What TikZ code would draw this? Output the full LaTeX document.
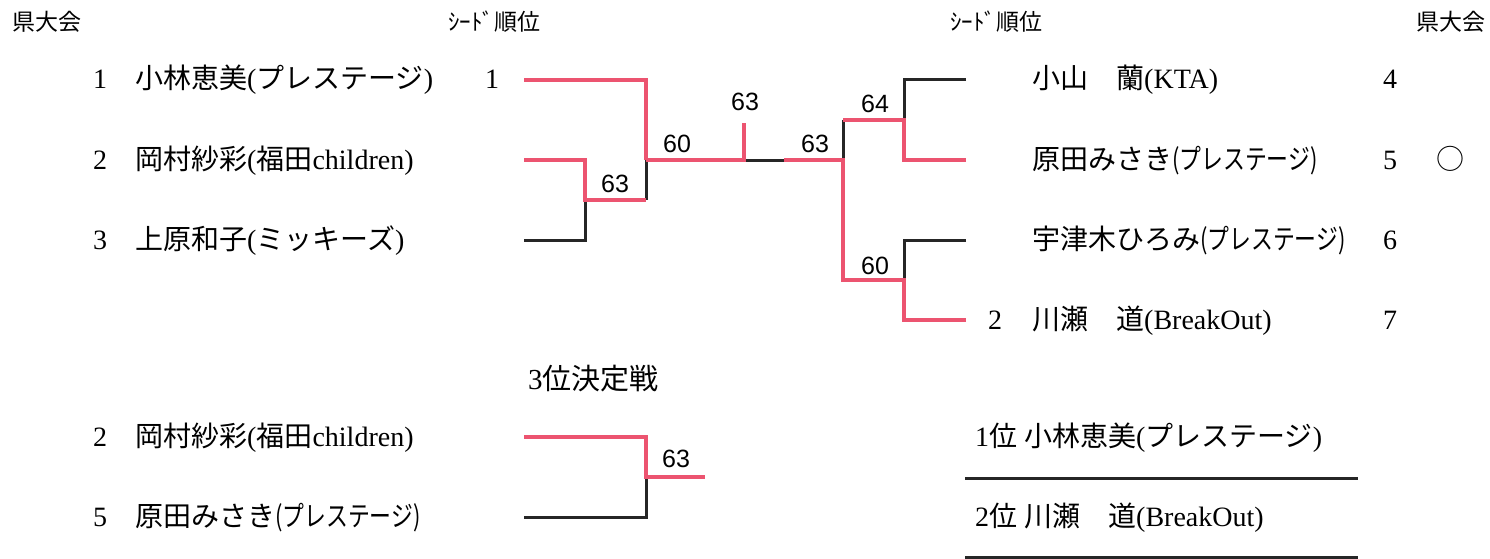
\documentclass[tikz,border=0pt]{standalone}
\usepackage{fontspec}
\usepackage{graphicx}
\setmainfont{Liberation Serif}
\newfontfamily\jpfont{Noto Sans CJK JP}
\newfontfamily\scorefont{Liberation Sans}
\newcommand{\jp}[1]{{\jpfont #1}}
\newcommand{\jpsmall}[1]{\scalebox{0.78}[1]{\jpfont #1}}
\definecolor{winred}{RGB}{236,84,112}

\begin{document}
\begin{tikzpicture}[x=1pt,y=-1pt]
        \tikzstyle{every node} = [inner sep=0pt, text height=24pt, text depth=6pt, font=\fontsize{28}{30}\selectfont]
        \tikzstyle{player} = [anchor=west]
        \tikzstyle{headtext} = [font=\jpfont\fontsize{23}{25}\selectfont]
        \tikzstyle{score} = [font=\scorefont\fontsize{25}{27}\selectfont]
        \tikzstyle{win} = [draw=winred, line width=4pt]
        \tikzstyle{lose} = [draw=black!85, line width=3pt]
        \useasboundingbox (0,0) rectangle (1490,559);

        % headers
        \node[headtext, anchor=west] (h1) at (12,22) {県大会};
        \node[headtext, anchor=west] (h2) at (448,22) {ｼｰﾄﾞ順位};
        \node[headtext, anchor=west] (h3) at (950,22) {ｼｰﾄﾞ順位};
        \node[headtext, anchor=east] (h4) at (1486,22) {県大会};

        % left block
        \node (n1) at (100,80) {1};
        \node[player] (p1) at (135,80) {\jp{小林恵美}(\jp{プレステージ})};
        \node (n2) at (100,160) {2};
        \node[player] (p2) at (135,160) {\jp{岡村紗彩}(\jp{福田}children)};
        \node (n3) at (100,240) {3};
        \node[player] (p3) at (135,240) {\jp{上原和子}(\jp{ミッキーズ})};
        \node (s1) at (492,80) {1};

        % right block
        \node[player] (p4) at (1032,80) {\jp{小山　蘭}(KTA)};
        \node[player] (p5) at (1032,160) {\jp{原田みさき}\jpsmall{(プレステージ)}};
        \node[player] (p6) at (1032,240) {\jp{宇津木ひろみ}\jpsmall{(プレステージ)}};
        \node (s2) at (995,320) {2};
        \node[player] (p7) at (1032,320) {\jp{川瀬　道}(BreakOut)};
        \node (n4) at (1390,80) {4};
        \node (n5) at (1390,160) {5};
        \node (n6) at (1390,240) {6};
        \node (n7) at (1390,320) {7};
        \node (mk) at (1450,160) {\jp{○}};

        % bracket ends
        \coordinate (a1) at (524,80);
        \coordinate (a2) at (524,160);
        \coordinate (a3) at (524,240);
        \coordinate (m23) at (585,200);
        \coordinate (m13) at (646,160);
        \coordinate (f) at (744,160);
        \coordinate (top) at (744,123);
        \coordinate (g) at (784,160);
        \coordinate (m47) at (843,160);
        \coordinate (m45) at (904,120);
        \coordinate (m67) at (904,280);
        \coordinate (b4) at (966,80);
        \coordinate (b5) at (966,160);
        \coordinate (b6) at (966,240);
        \coordinate (b7) at (966,320);

        \draw[lose] (a3) -| (m23);
        \draw[lose] (m23 -| m13) -- (m13);
        \draw[lose] (f) -- (g);
        \draw[lose] (b4) -| (m45);
        \draw[lose] (m45 -| m47) -- (m47);
        \draw[lose] (b6) -| (m67);

        \draw[win] (a1) -| (m13);
        \draw[win] (a2) -| (m23) -- (m23 -| m13);
        \draw[win] (m13) -- (f) -- (top);
        \draw[win] (b5) -| (m45) -- (m45 -| m47);
        \draw[win] (b7) -| (m67) -- (m67 -| m47) -- (m47) -- (g);

        \node[score] (sc23) at (615,183) {63};
        \node[score] (sc13) at (677,143) {60};
        \node[score] (scf) at (745,102) {63};
        \node[score] (sc47) at (815,143) {63};
        \node[score] (sc45) at (875,104) {64};
        \node[score] (sc67) at (875,265) {60};

        % third place match
        \node[player, font=\fontsize{29}{31}\selectfont] (t0) at (528,380) {3\jp{位決定戦}};
        \node (m2) at (100,437) {2};
        \node[player] (q2) at (135,437) {\jp{岡村紗彩}(\jp{福田}children)};
        \node (m5) at (100,517) {5};
        \node[player] (q5) at (135,517) {\jp{原田みさき}\jpsmall{(プレステージ)}};

        \coordinate (c1) at (524,437);
        \coordinate (c2) at (524,517);
        \coordinate (c12) at (646,477);
        \coordinate (c0) at (705,477);
        \draw[lose] (c2) -| (c12);
        \draw[win] (c1) -| (c12) -- (c0);
        \node[score] (sc3) at (676,458) {63};

        % final ranking
        \node[player] (r1) at (975,437) {1\jp{位}\ \jp{小林恵美}(\jp{プレステージ})};
        \node[player] (r2) at (975,517) {2\jp{位}\ \jp{川瀬　道}(BreakOut)};
        \coordinate (u1) at (965,478);
        \coordinate (u2) at (1358,478);
        \coordinate (v1) at (965,557);
        \coordinate (v2) at (1358,557);
        \draw[lose] (u1) -- (u2);
        \draw[lose] (v1) -- (v2);
\end{tikzpicture}
\end{document}
